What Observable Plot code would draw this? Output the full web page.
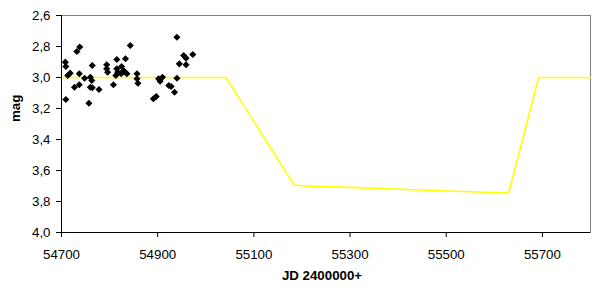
<!DOCTYPE html>
<html>
<head>
<meta charset="utf-8">
<script src="https://cdn.jsdelivr.net/npm/d3@7"></script>
<script src="https://cdn.jsdelivr.net/npm/@observablehq/plot@0.6"></script>
<style>
  html, body { margin: 0; padding: 0; background: #fff; }
</style>
</head>
<body>
<div id="chart"></div>
<script>
// Observations (JD - 2400000, magnitude)
const obsDays = [54708, 54709, 54718, 54713, 54709, 54732, 54738, 54737, 54727, 54737,
  54748, 54760, 54763, 54764, 54760, 54764, 54757, 54778, 54794, 54794,
  54796, 54808, 54815, 54815, 54817, 54813, 54825, 54829, 54824, 54832,
  54833, 54836, 54843, 54857, 54857, 54859, 54891, 54897, 54902, 54905,
  54910, 54923, 54928, 54935, 54940, 54940, 54945, 54954, 54959, 54959, 54973];
const obsMags = [2.901, 2.929, 2.972, 2.987, 3.142, 2.832, 2.803, 2.976, 3.063, 3.047,
  3.005, 2.998, 3.019, 2.923, 3.063, 3.066, 3.166, 3.077, 2.918, 2.944,
  2.966, 3.047, 2.884, 2.944, 2.966, 2.987, 2.929, 2.955, 2.976, 2.966,
  2.879, 2.976, 2.794, 2.976, 3.008, 3.037, 3.137, 3.123, 3.008, 3.024,
  2.998, 3.052, 3.058, 3.095, 2.740, 3.005, 2.912, 2.858, 2.875, 2.918, 2.852];

// Predicted eclipse curve
const curveDays = [54700, 55042, 55184, 55218, 55345, 55473, 55597, 55630, 55692, 55800];
const curveMags = [3.0, 3.0, 3.695, 3.701, 3.714, 3.729, 3.742, 3.746, 3.0, 3.0];

const xTicks = [54700, 54900, 55100, 55300, 55500, 55700];
const yTicks = [2.6, 2.8, 3.0, 3.2, 3.4, 3.6, 3.8, 4.0];

const obs = obsDays.map((d, i) => ({jd: d, mag: obsMags[i]}));
const curve = curveDays.map((d, i) => ({jd: d, mag: curveMags[i]}));
const fmtY = d => d.toFixed(1).replace(".", ",");

const chart = Plot.plot({
  width: 598,
  height: 292,
  marginLeft: 61,
  marginRight: 8,
  marginTop: 15,
  marginBottom: 60,
  style: {
    fontFamily: "'Liberation Sans', Arial, sans-serif",
    fontSize: "13.3px",
    color: "#000",
    background: "#fff"
  },
  x: {domain: [54700, 55800]},
  y: {domain: [2.6, 4.0], reverse: true},
  marks: [
    Plot.frame({stroke: "#808080"}),
    Plot.line(curve, {x: "jd", y: "mag", stroke: "#ffff00", strokeWidth: 1.6}),
    Plot.dot(obs, {x: "jd", y: "mag", symbol: "diamond2", r: 3.2, fill: "#000", stroke: null}),
    Plot.ruleX([54700], {stroke: "#000"}),
    Plot.ruleY([4.0], {stroke: "#000"}),
    Plot.axisY(yTicks, {anchor: "left", tickSize: 5, tickPadding: 6, tickFormat: fmtY, label: null, stroke: "#000"}),
    Plot.axisX(xTicks, {anchor: "bottom", tickSize: 5, tickPadding: 12, tickFormat: d => String(d), label: null, stroke: "#000"}),
    Plot.text(["mag"], {frameAnchor: "left", rotate: -90, dx: -46, dy: -2, fontWeight: "bold", text: d => d}),
    Plot.text(["JD 2400000+"], {frameAnchor: "bottom", dx: -4, dy: 47, fontWeight: "bold", text: d => d})
  ]
});
document.getElementById("chart").appendChild(chart);
</script>
</body>
</html>
